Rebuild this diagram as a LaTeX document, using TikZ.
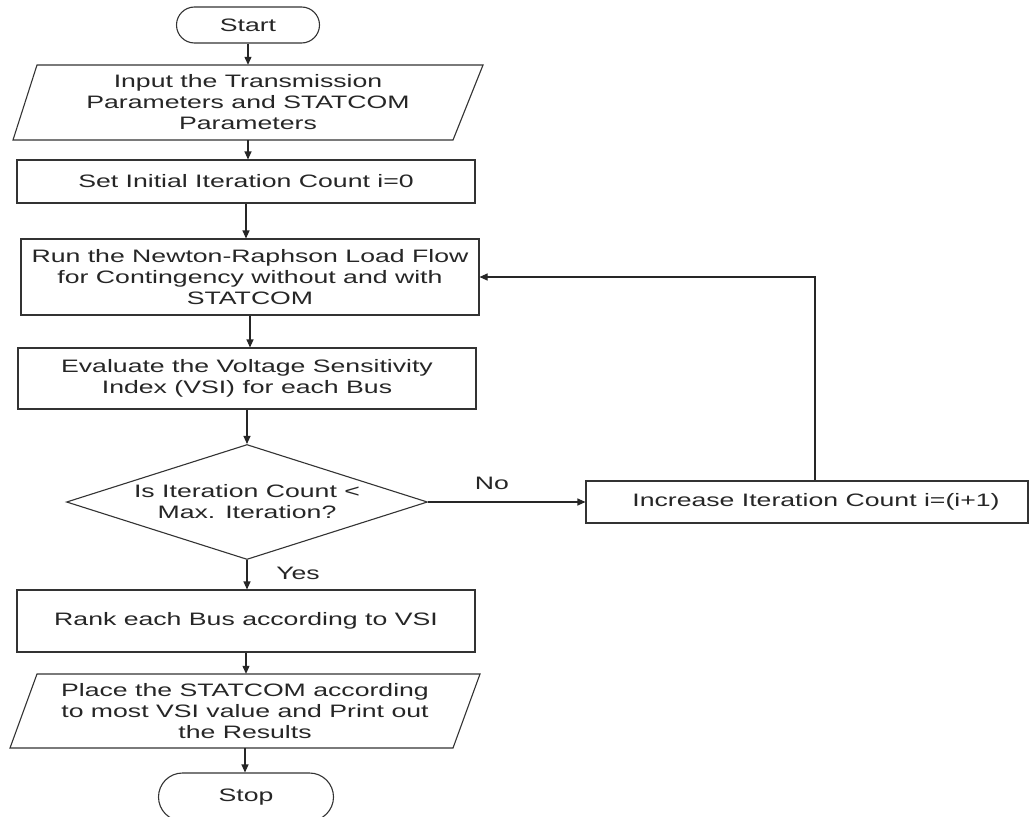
\documentclass[tikz,border=0pt]{standalone}
\usepackage{fontspec}
\setmainfont{Liberation Sans}[FakeStretch=1.48]
\usetikzlibrary{shapes.geometric,shapes.misc,arrows.meta}
\begin{document}
\begin{tikzpicture}[x=1pt,y=-1pt,
  every node/.style={font=\fontsize{18}{21}\selectfont, text=black!85},
  box/.style={draw=black!80, line width=1.1pt, rectangle, inner sep=0pt, align=center},
  term/.style={draw=black!80, line width=1.1pt, rounded rectangle, inner sep=0pt},
  para/.style={draw=black!80, line width=1.1pt},
  pnode/.style={rectangle, inner sep=0pt, align=center},
  arr/.style={draw=black!85, line width=1.1pt, -{Triangle[length=8pt,width=7pt]}},
  lbl/.style={inner sep=0pt}
]
\useasboundingbox (0,0) rectangle (1032,816);
\fill[white] (0,0) rectangle (1032,816);

% nodes
\node[term, minimum width=143pt, minimum height=36pt] (start) at (248,25) {Start};

\draw[para] (37,65) -- (483,65) -- (453,140) -- (13,140) -- cycle;
\node[pnode, minimum width=440pt, minimum height=75pt] (in1) at (248,102.5)
  {Input the Transmission\\Parameters and STATCOM\\Parameters};

\node[box, minimum width=458pt, minimum height=43pt] (set) at (246,181.5)
  {Set Initial Iteration Count i=0};

\node[box, minimum width=458pt, minimum height=76pt] (run) at (250,277)
  {Run the Newton-Raphson Load Flow\\for Contingency without and with\\STATCOM};

\node[box, minimum width=458pt, minimum height=61pt] (eval) at (247,378.5)
  {Evaluate the Voltage Sensitivity\\Index (VSI) for each Bus};

\node[diamond, draw=black!80, line width=1.1pt, inner sep=0pt,
      minimum width=361pt, minimum height=115pt,
      label={[align=center, font=\fontsize{18}{21}\selectfont, text=black!85]center:Is Iteration Count <\\Max. Iteration?}]
  (dec) at (247,502) {};

\node[box, minimum width=442pt, minimum height=42pt] (inc) at (807,502)
  {\hspace*{18pt}Increase Iteration Count i=(i+1)};

\node[box, minimum width=458pt, minimum height=62pt] (rank) at (246,621)
  {Rank each Bus according to VSI};

\draw[para] (37,674) -- (480,674) -- (453,748) -- (10,748) -- cycle;
\node[pnode, minimum width=440pt, minimum height=74pt] (place) at (245,711)
  {Place the STATCOM according\\to most VSI value and Print out\\the Results};

\node[term, minimum width=175pt, minimum height=48pt] (stop) at (246,797) {Stop};

% connectors
\draw[arr] (start.south) -- (start.south |- in1.north);
\draw[arr] (in1.south) -- (in1.south |- set.north);
\draw[arr] (set.south) -- (set.south |- run.north);
\draw[arr] (run.south) -- (run.south |- eval.north);
\draw[arr] (eval.south) -- (eval.south |- dec.north);
\draw[arr] (dec.south) -- (dec.south |- rank.north);
\draw[arr] (rank.south) -- (rank.south |- place.north);
\draw[arr] (place.south) -- (place.south |- stop.north);
\draw[arr] (dec.east) -- (inc.west);
\coordinate (fb) at ([xshift=8pt]inc.north);
\draw[arr] (fb) |- (run.east);

% labels
\node[lbl] (no) at (492,483) {No};
\node[lbl] (yes) at (298,573) {Yes};
\end{tikzpicture}
\end{document}
